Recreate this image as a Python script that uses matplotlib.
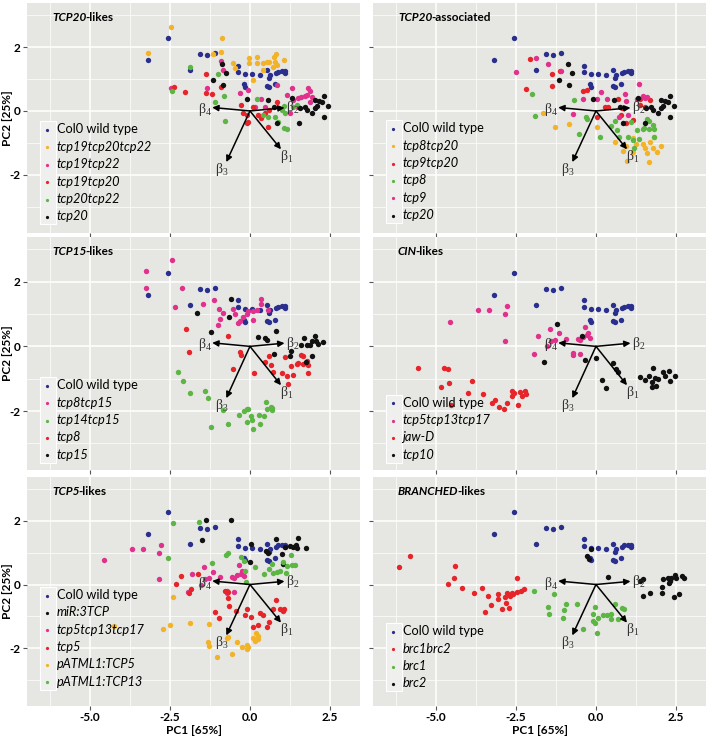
import matplotlib
matplotlib.use('Agg')
import matplotlib.pyplot as plt
from matplotlib.patches import Rectangle

plt.rcParams['font.family'] = ['Lato', 'DejaVu Sans']
plt.rcParams['mathtext.fontset'] = 'custom'
plt.rcParams['mathtext.rm'] = 'Liberation Serif'
plt.rcParams['mathtext.it'] = 'Liberation Serif:italic'

# ---- data: PC1, PC2 scores ----
col0 = [(-2.55, 2.27), (-3.18, 1.59), (-1.57, 1.77), (-1.35, 1.74), (-1.10, 1.81), (-1.89, 1.28),
        (-0.36, 1.42), (-0.375, 1.21), (-0.16, 1.15), (0.07, 1.15), (0.31, 1.13), (0.54, 1.28),
        (0.625, 1.13), (0.61, 1.02), (0.80, 1.18), (0.885, 1.23), (0.99, 1.25), (1.11, 1.25),
        (1.09, 1.18), (-0.19, 0.83), (-0.17, 0.76), (0.54, 0.78), (0.59, 0.74), (0.77, 0.83)]

tcp19tcp20tcp22 = [(-3.20, 1.82), (-2.47, 2.64), (-1.15, 1.78), (-0.885, 2.29), (-0.90, 1.85),
                   (-0.52, 1.51), (-0.47, 1.33), (-0.02, 1.65), (-0.02, 1.49), (0.21, 1.68),
                   (0.23, 1.51), (0.10, 0.97), (0.42, 1.49), (0.52, 1.54), (0.60, 1.54),
                   (0.75, 1.68), (0.81, 1.78), (0.78, 1.54), (0.83, 1.44), (1.06, 1.59),
                   (0.42, 1.28), (0.71, 1.39)]
tcp19tcp22 = [(-2.47, 0.71), (-0.91, 1.56), (-0.83, 1.28), (-1.35, 0.71), (-0.31, 0.55),
              (-0.05, 0.66), (0.16, 0.14), (0.36, 0.375), (0.47, 0.14), (0.85, 0.80),
              (1.30, 0.71), (1.15, 0.50), (1.35, 0.34), (1.51, 0.42), (1.61, 0.45),
              (1.72, 0.47), (1.82, 0.71), (1.875, 0.64), (1.77, 0.49), (1.93, 0.45),
              (1.875, 0.29), (1.51, 0.14), (1.25, -0.07)]
tcp19tcp20 = [(-2.36, 0.76), (-2.03, 0.60), (-1.375, 1.15), (-1.375, 0.55), (-1.20, 0.52),
              (-0.91, 0.74), (-0.29, 0.19), (-0.23, -0.07), (-0.05, -0.33), (0.26, -0.125),
              (0.34, -0.23), (0.57, -0.49), (0.47, -0.07), (0.60, 0.03), (0.85, 0.27),
              (-0.08, -0.125), (-0.10, -0.385), (0.10, 0.14)]
tcp20tcp22 = [(-1.875, 1.39), (-2.45, 0.64), (-0.99, 1.16), (-0.81, 0.48), (-1.09, 0.29),
              (-0.78, -0.31), (0.21, 0.375), (0.42, -0.125), (0.57, -0.20), (0.78, -0.18),
              (0.885, -0.33), (1.07, -0.54), (1.15, -0.57), (0.99, 0.03), (1.06, 0.16),
              (1.35, 0.14), (1.46, 0.19), (1.09, -0.07)]
tcp20 = [(-0.885, 1.46), (-0.75, 1.18), (-1.15, 0.97), (-0.83, 0.81), (-0.08, 0.375),
         (0.57, 0.34), (0.75, 0.11), (1.30, 0.42), (1.56, 0.08), (1.53, -0.385),
         (1.72, 0.14), (2.03, 0.34), (2.17, 0.32), (2.31, 0.47), (2.24, 0.29),
         (2.45, 0.16), (2.31, -0.18), (2.03, 0.08), (1.93, -0.05), (2.10, 0.16),
         (1.77, 0.03), (0.83, -0.385)]

tcp8tcp20 = [(-1.65, -0.05), (-1.28, -0.49), (-0.83, -0.41), (0.02, -0.50), (0.61, -0.96),
             (0.85, -1.24), (0.98, -1.56), (0.94, -1.11), (1.17, -0.85), (1.25, -1.03),
             (1.46, -1.03), (1.53, -1.17), (1.61, -1.30), (1.67, -1.60), (1.69, -0.96),
             (1.90, -1.27), (2.03, -1.09), (1.81, -0.80), (1.79, -1.17), (1.17, -1.27)]
tcp9tcp20 = [(-2.06, 1.625), (-2.19, 0.69), (-1.385, 1.16), (-1.385, 0.78), (-1.125, 1.26),
             (-0.40, 0.64), (-0.27, 0.66), (0.02, -0.20), (0.385, 0.135), (0.70, 0.375),
             (0.77, -0.125), (0.94, -0.385), (1.17, -0.28), (1.375, 0.19), (1.53, 0.135),
             (1.69, 0.34), (1.375, 0.36), (0.80, 0.08), (0.28, 0.11)]
tcp8 = [(-2.01, 0.53), (-1.90, -0.17), (-0.68, 0.33), (-0.53, -0.71), (-0.31, -0.18),
        (-0.28, -0.26), (0.14, -0.83), (0.47, -0.47), (0.59, -0.30), (0.66, -0.59),
        (0.72, -0.80), (1.0, -0.82), (1.09, -0.34), (1.16, -0.92), (1.20, -1.15),
        (1.27, -0.60), (1.33, -0.885), (1.51, -0.52), (1.61, -0.26), (1.67, -0.31),
        (1.67, -0.55), (1.77, -0.44), (1.80, -0.82), (1.82, -0.56), (1.46, -0.55)]
tcp9 = [(-2.50, 1.21), (-1.885, 1.67), (-1.49, 1.47), (-1.10, 1.26), (-0.73, -0.10),
        (-0.40, 0.36), (0.04, 0.375), (0.16, 0.60), (0.35, 0.375), (0.73, -0.18),
        (0.91, 0.53), (0.94, 0.31), (1.01, -0.125), (1.35, 0.86), (1.27, 0.36),
        (1.46, 0.47), (1.53, 0.40), (1.58, 0.45)]

tcp8tcp15 = [(-3.25, 2.32), (-3.26, 1.80), (-2.45, 2.66), (-2.11, 1.80), (-2.34, 1.23),
             (-1.48, 1.32), (-1.115, 1.43), (-0.96, 1.15), (-0.85, 1.04), (-0.94, 0.86),
             (-0.99, 0.66), (-0.54, 1.17), (-0.47, 1.01), (-0.36, 0.73), (-0.31, 0.78),
             (-0.21, 0.91), (-0.10, 1.01), (-0.05, 1.09), (0.10, 1.09), (0.21, 1.11),
             (0.33, 1.46), (0.36, 1.32), (0.10, 0.83), (0.57, 1.11)]
tcp14tcp15 = [(-2.26, -0.78), (-2.10, -1.07), (-1.875, -1.44), (-1.41, -1.385), (-1.30, -1.61),
              (-1.22, -2.50), (-0.85, -1.98), (-0.70, -2.40), (-0.34, -2.11), (-0.18, -2.01),
              (-0.10, -1.95), (-0.05, -1.95), (-0.10, -2.34), (0.02, -2.16), (0.05, -2.29),
              (0.10, -2.55), (0.29, -2.11), (0.31, -2.40), (0.45, -2.14), (0.49, -1.72),
              (0.52, -1.95), (0.65, -1.875), (0.68, -1.98), (0.70, -1.91)]
tcp15 = [(-1.67, 1.02), (-1.22, 0.45), (-0.65, 0.91), (-0.59, 1.46), (0.24, 0.29),
         (0.47, 0.26), (0.52, 0.21), (0.81, 0.49), (0.75, -0.23), (1.27, -0.14),
         (1.25, -0.31), (1.61, 0.05), (1.69, 0.26), (1.77, 0.03), (1.875, 0.05),
         (1.93, 0.16), (2.03, 0.31), (2.08, 0.18), (2.14, 0.07), (2.29, 0.135),
         (1.93, -0.31), (1.75, -0.47)]

tcp5tcp13tcp17 = [(-4.56, 0.76), (-3.68, 1.125), (-3.33, 1.125), (-2.84, 1.0), (-2.77, 1.25),
                  (-2.84, 0.17), (-1.93, -0.25), (-1.80, 0.32), (-1.44, 0.55), (-1.41, 0.17),
                  (-1.52, 0.0), (-1.16, 0.40), (-1.28, 0.19), (-0.94, 0.24), (-0.73, -0.20),
                  (-0.71, -0.26), (-0.50, -0.23), (-0.34, 0.60), (-0.57, 0.24), (-0.50, 0.19),
                  (-0.40, 0.29), (-0.29, 0.34), (-0.24, 0.42), (-0.19, 0.26)]
jaw_d = [(-5.55, -0.68), (-4.75, -0.68), (-4.61, -0.70), (-4.84, -1.25), (-4.58, -1.14),
         (-4.54, -1.81), (-3.99, -1.45), (-3.89, -1.08), (-3.52, -1.48), (-3.26, -1.74),
         (-3.16, -1.67), (-3.02, -1.86), (-2.875, -1.95), (-2.77, -1.76), (-2.64, -1.375),
         (-2.61, -1.53), (-2.55, -1.45), (-2.43, -1.81), (-2.375, -1.41), (-2.32, -1.53),
         (-2.22, -1.375), (-2.20, -1.48)]
tcp10 = [(-1.23, 0.69), (-0.45, 0.32), (-1.625, -0.49), (-0.34, -0.42), (0.0, -0.36),
         (0.20, -1.03), (0.31, -1.29), (0.54, -0.52), (0.625, -0.70), (0.70, -0.80),
         (1.375, -0.94), (1.53, -1.03), (1.67, -0.91), (1.79, -0.68), (1.74, -1.11),
         (1.84, -0.98), (1.94, -1.01), (1.89, -1.22), (2.10, -0.80), (2.15, -0.91),
         (2.29, -0.75), (2.33, -1.06), (2.47, -0.93), (1.74, -1.27)]

mir3tcp = [(-1.375, 2.03), (-0.59, 2.03), (-1.49, 1.385), (0.02, 1.28), (0.0, 0.71),
           (0.50, 1.06), (0.57, 0.99), (0.81, 1.44), (0.99, 0.96), (1.02, 0.65),
           (1.09, 1.18), (1.25, 1.20), (1.35, 1.18), (1.43, 1.23), (1.49, 1.46),
           (1.46, 1.15), (1.75, 1.15)]
tcp5 = [(-2.32, 0.03), (-2.16, 0.28), (-1.85, -0.135), (-1.91, -0.26), (-1.61, 0.34),
        (-0.78, -0.19), (-0.70, -0.24), (-0.70, -0.42), (-0.66, -0.68), (-1.09, -0.86),
        (-0.96, -1.04), (-0.44, -0.83), (-0.10, -0.76), (0.02, -1.01), (0.10, -1.35),
        (0.26, -1.27), (0.31, -0.885), (0.40, -0.96), (0.52, -1.35), (0.60, -1.17),
        (0.73, -0.78), (0.81, -0.49), (0.94, -0.76), (1.06, -0.78), (1.02, -0.83),
        (-0.16, -0.97)]
patml1_tcp5 = [(-4.24, -1.32), (-2.73, -1.41), (-2.50, -1.27), (-1.875, -1.22), (-2.40, -0.385),
               (-1.27, -1.25), (-1.30, -1.82), (-1.28, -1.93), (-1.04, -2.29), (-0.73, -1.67),
               (-0.70, -1.65), (-0.42, -1.80), (-0.57, -2.19), (-0.26, -1.98), (-0.10, -1.90),
               (-0.05, -1.98), (-0.08, -2.03), (0.10, -1.67), (0.19, -1.54), (0.24, -1.61),
               (0.26, -1.72), (0.16, -1.77)]
patml1_tcp13 = [(-2.40, 1.93), (-1.60, 1.96), (-2.55, 0.83), (-1.20, 0.68), (-0.76, 0.92),
                (-0.70, 0.99), (-0.29, 0.85), (-0.16, 0.42), (-0.125, 0.07), (0.16, 0.56),
                (-0.18, 0.73), (0.68, 0.65), (0.73, 0.36), (0.83, 0.40), (0.94, 0.44),
                (1.04, 0.71), (1.125, 0.36), (1.17, 0.57), (1.27, 0.94), (1.30, 0.625),
                (1.41, 0.625), (0.59, 0.49), (0.45, 0.34)]

brc1brc2 = [(-6.15, 0.54), (-5.81, 0.90), (-4.41, 0.59), (-4.44, 0.21), (-4.61, 0.03),
            (-4.20, -0.10), (-3.81, -0.26), (-3.55, -0.10), (-3.47, -0.86), (-3.28, -0.66),
            (-3.36, -0.36), (-3.07, -0.31), (-3.07, -0.47), (-2.93, -0.76), (-2.84, -0.40),
            (-2.79, -0.26), (-2.71, -0.73), (-2.69, -0.36), (-2.64, -0.26), (-2.58, -0.31),
            (-2.48, -0.23), (-2.35, -0.21), (-2.46, 0.21), (-2.24, -0.135), (-2.82, -0.57)]
brc1 = [(-1.94, -0.21), (-1.30, -0.29), (-1.49, -0.71), (-1.47, -0.94), (-1.04, -1.04),
        (-0.99, -0.81), (-0.94, -0.625), (-0.59, -0.60), (-0.40, -1.41), (-0.03, -0.71),
        (-0.08, -0.94), (-0.10, -1.15), (-0.03, -1.20), (0.04, -1.53), (0.07, -1.04),
        (0.23, -0.96), (0.33, -0.96), (0.47, -0.94), (0.47, -1.09), (0.61, -0.625),
        (0.70, -1.09), (0.82, -0.75), (0.885, -0.78)]
brc2 = [(-0.17, 1.11), (-0.27, 0.91), (-0.22, 0.81), (0.385, 0.24), (1.375, 0.10),
        (1.46, 0.18), (1.48, -0.36), (1.69, -0.28), (2.05, -0.07), (2.07, -0.28),
        (2.10, 0.18), (2.26, 0.21), (2.29, 0.05), (2.33, 0.10), (2.36, 0.21),
        (2.47, 0.31), (2.50, 0.21), (2.44, -0.40), (2.59, -0.31), (2.68, 0.26),
        (2.76, 0.21)]

# loadings (biplot arrows)
beta_names = [r'$\mathrm{β_1}$', r'$\mathrm{β_2}$', r'$\mathrm{β_3}$', r'$\mathrm{β_4}$']
beta_x = [0.97, 1.08, -0.74, -1.18]
beta_y = [-1.20, 0.10, -1.60, 0.11]

BLUE, ORANGE, PINK, RED, GREEN, BLACK = '#2a2f8e', '#f3b329', '#e2308d', '#e8242b', '#5cb644', '#111111'

panels = [
    (('TCP20', '-likes'), [('Col0 wild type', col0, BLUE), ('tcp19tcp20tcp22', tcp19tcp20tcp22, ORANGE),
                           ('tcp19tcp22', tcp19tcp22, PINK), ('tcp19tcp20', tcp19tcp20, RED),
                           ('tcp20tcp22', tcp20tcp22, GREEN), ('tcp20', tcp20, BLACK)]),
    (('TCP20', '-associated'), [('Col0 wild type', col0, BLUE), ('tcp8tcp20', tcp8tcp20, ORANGE),
                                ('tcp9tcp20', tcp9tcp20, RED), ('tcp8', tcp8, GREEN),
                                ('tcp9', tcp9, PINK), ('tcp20', tcp20, BLACK)]),
    (('TCP15', '-likes'), [('Col0 wild type', col0, BLUE), ('tcp8tcp15', tcp8tcp15, PINK),
                           ('tcp14tcp15', tcp14tcp15, GREEN), ('tcp8', tcp8, RED),
                           ('tcp15', tcp15, BLACK)]),
    (('CIN', '-likes'), [('Col0 wild type', col0, BLUE), ('tcp5tcp13tcp17', tcp5tcp13tcp17, PINK),
                         ('jaw-D', jaw_d, RED), ('tcp10', tcp10, BLACK)]),
    (('TCP5', '-likes'), [('Col0 wild type', col0, BLUE), ('miR:3TCP', mir3tcp, BLACK),
                          ('tcp5tcp13tcp17', tcp5tcp13tcp17, PINK), ('tcp5', tcp5, RED),
                          ('pATML1:TCP5', patml1_tcp5, ORANGE), ('pATML1:TCP13', patml1_tcp13, GREEN)]),
    (('BRANCHED', '-likes'), [('Col0 wild type', col0, BLUE), ('brc1brc2', brc1brc2, RED),
                              ('brc1', brc1, GREEN), ('brc2', brc2, BLACK)]),
]

W, H = 709, 738
fig = plt.figure(figsize=(W / 100, H / 100), dpi=100)
cols = [(27, 360), (373, 706)]
rows = [(3, 233), (237, 470), (477, 706)]
leg_y = [0.002, 0.007, -0.004, -0.004, 0.035, 0.028]
axes, legends = [], []

for i, (title, series) in enumerate(panels):
    r, c = divmod(i, 2)
    x0, x1 = cols[c]
    y0, y1 = rows[r]
    ax = fig.add_axes([x0 / W, 1 - y1 / H, (x1 - x0) / W, (y1 - y0) / H])
    ax.set_facecolor('#e6e6e2')
    for s in ax.spines.values():
        s.set_visible(False)
    ax.set_xlim(-6.97, 3.44)
    ax.set_ylim(-3.82, 3.38)
    ax.set_xticks([-5, -2.5, 0, 2.5])
    ax.set_xticks([-6.25, -3.75, -1.25, 1.25], minor=True)
    ax.set_yticks([-2, 0, 2])
    ax.set_yticks([-3, -1, 1, 3], minor=True)
    ax.grid(which='major', color='white', lw=1.1)
    ax.grid(which='minor', color='white', lw=0.5)
    ax.set_axisbelow(True)
    ax.tick_params(which='major', length=3, width=0.8, color='#555555', labelsize=8.5, pad=1.5)
    ax.tick_params(which='minor', length=0)
    if r == 2:
        ax.set_xticklabels(['-5.0', '-2.5', '0.0', '2.5'], fontweight='bold')
        ax.set_xlabel('PC1 [65%]', fontsize=8.5, fontweight='bold')
        ax.xaxis.set_label_coords(0.5, -0.082)
    else:
        ax.set_xticklabels([])
    if c == 0:
        ax.set_yticklabels(['-2', '0', '2'], fontweight='bold')
        ax.set_ylabel('PC2 [25%]', fontsize=8.5, fontweight='bold')
        ax.yaxis.set_label_coords(-0.042, 0.5)
    else:
        ax.set_yticklabels([])

    for name, pts, col in series:
        xs = [p[0] for p in pts]
        ys = [p[1] for p in pts]
        ax.scatter(xs, ys, s=15, color=col, linewidths=0, label=name, zorder=3)

    for name, bx, by in zip(beta_names, beta_x, beta_y):
        ax.annotate('', xy=(bx, by), xytext=(0, 0),
                    arrowprops=dict(arrowstyle='-|>', color='black', lw=1.1,
                                    mutation_scale=9, shrinkA=0, shrinkB=0), zorder=4)
    offsets = [(4, -5), (6, 0), (-3, -5), (-5, -1.5)]
    for name, bx, by, (dx, dy) in zip(beta_names, beta_x, beta_y, offsets):
        ax.annotate(name, xy=(bx, by), xytext=(dx, dy), textcoords='offset points',
                    fontsize=10, ha='center', va='center', color='#333333', zorder=5)

    t1 = ax.text(0.075, 0.96, title[0], transform=ax.transAxes, fontsize=8.5,
                 fontweight='bold', fontstyle='italic', va='top', ha='left')
    ax.annotate(title[1], xy=(1, 0), xycoords=t1, xytext=(-0.8, 0), textcoords='offset points',
                fontsize=8.5, fontweight='bold', va='bottom', ha='left')

    leg = ax.legend(loc='lower left', bbox_to_anchor=(0.01, leg_y[i]), frameon=False,
                    fontsize=9.2, markerscale=0.6, handletextpad=0.25, labelspacing=0.42,
                    borderpad=0.3, handlelength=1.0, scatterpoints=1)
    leg.set_zorder(6)
    for txt in leg.get_texts():
        if txt.get_text() != 'Col0 wild type':
            txt.set_fontstyle('italic')
    axes.append(ax)
    legends.append(leg)

# light key strip behind the legend markers, as in ggplot's legend keys
fig.canvas.draw()
renderer = fig.canvas.get_renderer()
for ax, leg in zip(axes, legends):
    lb = leg.get_window_extent(renderer)
    tb = [t.get_window_extent(renderer) for t in leg.get_texts()]
    tx0 = min(b.x0 for b in tb)
    ty0 = min(b.y0 for b in tb) - 2
    ty1 = max(b.y1 for b in tb) + 2
    kx0 = lb.x0 + 3
    inv = ax.transAxes.inverted()
    (ax0, ay0), (ax1, ay1) = inv.transform([(kx0, ty0), (tx0 - 1, ty1)])
    ax.add_patch(Rectangle((ax0, ay0), ax1 - ax0, ay1 - ay0, transform=ax.transAxes,
                           facecolor='#efefed', edgecolor='white', lw=0.8, zorder=2))

fig.savefig('out.png', dpi=100)
